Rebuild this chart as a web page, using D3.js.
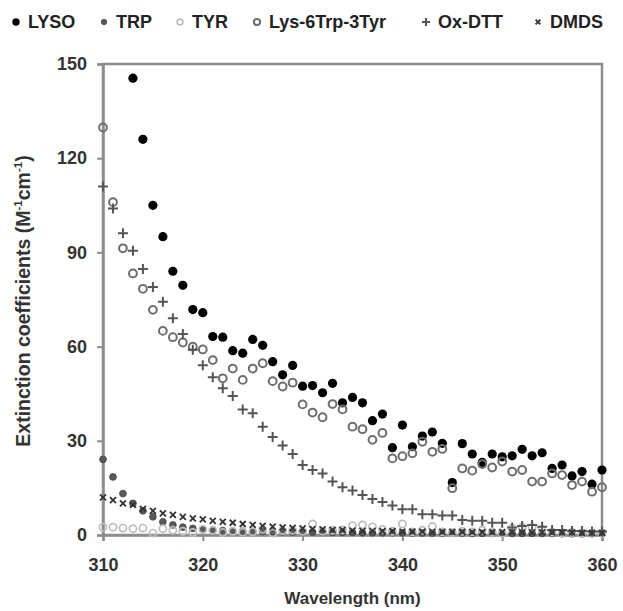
<!DOCTYPE html>
<html><head><meta charset="utf-8">
<script src="https://cdn.jsdelivr.net/npm/d3@7"></script>
<style>body{margin:0;background:#fff}svg{display:block}</style>
</head><body>
<svg id="c" width="623" height="611"></svg>
<script>
// Wavelengths (nm)
const wavelengths = d3.range(310, 361);
const lysoStart = 313;
const LYSO = [145.5,126,105,95,84,79.5,71.8,70.8,63.2,63,58.7,57.9,62.3,60.4,55.2,51,54,47.4,47.6,45.3,48.3,42.1,43.8,42.1,36.4,38.5,27.8,35,28.1,31.5,32.8,29.2,16.7,29.1,25.8,23.1,25.8,24.9,25.2,27.3,25.2,26.2,21.2,22.3,18.8,20.2,16.2,20.7];
const TRP = [24.1,18.5,13.2,10.1,7.7,5.8,4.2,3.2,2.5,2.1,1.7,1.5,1.4,1.3,1.2,1.1,1.1,1.0,1.0,0.9,0.9,0.9,0.8,0.8,0.8,0.8,0.7,0.7,0.7,0.7,0.7,0.6,0.6,0.6,0.6,0.6,0.6,0.5,0.5,0.5,0.5,0.5,0.5,0.5,0.5,0.5,0.4,0.4,0.4,0.4,0.4];
const TYR = [2.5,2.5,2.2,2.0,2.2,0.6,2.0,1.5,1.2,0.8,1.8,1.5,0.8,1.2,0.9,1.0,1.8,0.6,1.4,1.5,1.2,3.5,1.2,1.5,1.6,3.0,3.2,2.6,1.8,1.2,3.5,1.0,1.5,2.7,1.0,0.8,1.2,1.0,1.5,0.8,0.5,2.2,2.5,2.3,1.8,0.9,0.6,0.8,0.5,0.6,0.5];
const LYS6TRP3TYR = [129.8,106,91.3,83.3,78.4,71.7,65,63,61.3,60,59.1,55.7,49.9,53,49.4,53,54.7,49,47.3,48.5,41.6,39,37.5,41.7,40,34.5,33.7,30.3,32.5,24.4,25.1,26,29.7,26.5,27.4,14.9,21.2,20.5,22.6,21.5,23.4,20.2,20.7,17,17,19.6,19.1,15.9,17,13.8,15.2];
const OXDTT = [111,104,96.1,90.5,84.7,79,74.3,69,64,59,54.1,50.2,46.7,44.3,40,38.8,34.5,31.2,28.5,25.8,22.3,20.7,19.6,17,15.2,14.2,12.7,11.5,10.5,9.4,8.2,8.2,6.6,6.6,6.2,6.2,4.8,4.5,4.5,3.9,3.9,2.4,2.9,3.2,2.6,1.6,1.6,1.3,1.3,1.1,1.1];
const DMDS = [12,11.1,10.1,9.6,8.3,7.7,6.9,6.4,5.8,5.3,5.0,4.5,4.2,3.9,3.5,3.2,2.9,2.7,2.4,2.3,2.1,1.9,1.8,1.6,1.6,1.4,1.3,1.3,1.2,1.2,1.1,1.1,1.1,1.0,1.0,1.0,1.0,0.9,0.9,0.9,0.9,0.9,0.8,0.8,0.8,0.8,0.8,0.8,0.7,0.7,0.7];
const seriesNames = ["LYSO","TRP","TYR","Lys-6Trp-3Tyr","Ox-DTT","DMDS"];
const xTicks = [310,320,330,340,350,360];
const yTicks = [0,30,60,90,120,150];

const svg = d3.select("#c");
const m = {l:103, r:602, t:64, b:535};
const x = d3.scaleLinear().domain([310,360]).range([m.l, m.r]);
const y = d3.scaleLinear().domain([0,150]).range([m.b, m.t]);
const font = "'Liberation Sans', Arial, sans-serif";
const axisCol = "#8c8c8c";

// frame
svg.append("rect").attr("x",m.l).attr("y",m.t).attr("width",m.r-m.l).attr("height",m.b-m.t)
  .attr("fill","none").attr("stroke",axisCol).attr("stroke-width",2.5);

const yAxis = svg.append("g").attr("transform",`translate(${m.l},0)`)
  .call(d3.axisLeft(y).tickValues(yTicks).tickSize(6).tickPadding(10));
const xAxis = svg.append("g").attr("transform",`translate(0,${m.b})`)
  .call(d3.axisBottom(x).tickValues(xTicks).tickSize(6).tickPadding(17));
[yAxis,xAxis].forEach(a=>{
  a.select(".domain").attr("stroke",axisCol).attr("stroke-width",2.5);
  a.selectAll(".tick line").attr("stroke",axisCol).attr("stroke-width",2);
  a.selectAll(".tick text").attr("fill","#333").attr("font-family",font)
    .attr("font-size",18).attr("font-weight","bold");
});

// axis titles
svg.append("text").attr("x",(m.l+m.r)/2).attr("y",604).attr("text-anchor","middle")
  .attr("font-family",font).attr("font-size",17).attr("font-weight","bold").attr("fill","#333")
  .text("Wavelength (nm)");
const yt = svg.append("text").attr("transform","translate(30,301) rotate(-90)").attr("text-anchor","middle")
  .attr("font-family",font).attr("font-size",19.5).attr("font-weight","bold").attr("fill","#333");
yt.append("tspan").text("Extinction coefficients (M");
yt.append("tspan").attr("font-size",11.5).attr("dy",-8).text("-1");
yt.append("tspan").attr("dy",8).text("cm");
yt.append("tspan").attr("font-size",11.5).attr("dy",-8).text("-1");
yt.append("tspan").attr("dy",8).text(")");

// marker drawers
const styles = {
  "LYSO": (g,s)=>g.append("circle").attr("r",4.6*s).attr("fill","#000"),
  "TRP": (g,s)=>g.append("circle").attr("r",3.4*s).attr("fill","#5a5a5a").attr("stroke","#444").attr("stroke-width",0.8),
  "TYR": (g,s)=>g.append("circle").attr("r",3.6*s).attr("fill","none").attr("stroke","#bdbdbd").attr("stroke-width",1.7),
  "Lys-6Trp-3Tyr": (g,s)=>g.append("circle").attr("r",3.9*s).attr("fill","none").attr("stroke","#6e6e6e").attr("stroke-width",2),
  "Ox-DTT": (g,s)=>g.append("path").attr("d",`M${-5*s},0H${5*s}M0,${-5*s}V${5*s}`).attr("stroke","#555").attr("stroke-width",2),
  "DMDS": (g,s)=>g.append("path").attr("d",`M${-3*s},${-3*s}L${3*s},${3*s}M${-3*s},${3*s}L${3*s},${-3*s}`).attr("stroke","#333").attr("stroke-width",1.8)
};
const dataMap = {
  "LYSO": LYSO.map((v,i)=>[lysoStart+i,v]),
  "TRP": TRP.map((v,i)=>[wavelengths[i],v]),
  "TYR": TYR.map((v,i)=>[wavelengths[i],v]),
  "Lys-6Trp-3Tyr": LYS6TRP3TYR.map((v,i)=>[wavelengths[i],v]),
  "Ox-DTT": OXDTT.map((v,i)=>[wavelengths[i],v]),
  "DMDS": DMDS.map((v,i)=>[wavelengths[i],v])
};
seriesNames.forEach(name=>{
  const g = svg.append("g");
  dataMap[name].forEach(([w,v])=>{
    const p = g.append("g").attr("transform",`translate(${x(w)},${y(v)})`);
    styles[name](p,1);
  });
});

// legend
const legendX = [16,104,180,257,426,538];
seriesNames.forEach((name,i)=>{
  const p = svg.append("g").attr("transform",`translate(${legendX[i]},22)`);
  styles[name](p,0.8);
  svg.append("text").attr("x",legendX[i]+12).attr("y",28).attr("font-family",font)
    .attr("font-size",18).attr("font-weight","bold").attr("fill","#222").text(name);
});
</script>
</body></html>
